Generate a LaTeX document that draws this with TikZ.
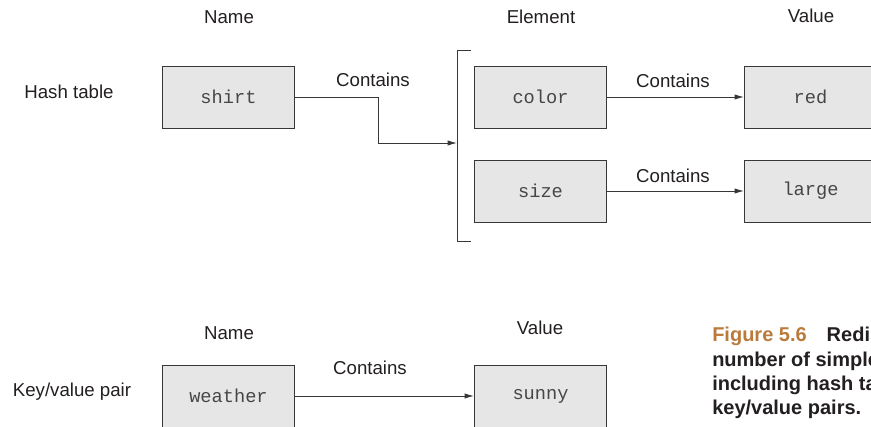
\documentclass[tikz,border=0pt]{standalone}
\usepackage{fontspec}
\setmainfont{Liberation Sans}
\setmonofont{Liberation Mono}
\usetikzlibrary{arrows.meta,positioning}
\definecolor{boxfill}{RGB}{230,230,230}
\definecolor{boxline}{RGB}{55,55,55}
\definecolor{inkdark}{RGB}{35,31,32}
\definecolor{monoink}{RGB}{70,70,70}
\definecolor{figorange}{RGB}{186,122,60}
\tikzset{
  keybox/.style={rectangle,draw=boxline,fill=boxfill,line width=0.75pt,minimum width=99pt,minimum height=46.5pt,inner sep=0pt,font=\fontsize{14}{16}\selectfont\ttfamily,text=monoink},
  lbl/.style={font=\fontsize{14}{16}\selectfont,text=inkdark,inner sep=0pt},
  arr/.style={-{Latex[length=7pt,width=4pt]},line width=0.75pt,color=boxline},
  brk/.style={line width=0.75pt,color=boxline},
  captxt/.style={anchor=base west,inner sep=0pt,font=\fontsize{15}{18}\selectfont\bfseries,text=inkdark}
}
\begin{document}
\begin{tikzpicture}[x=0.75pt,y=-0.75pt]
  \useasboundingbox (0,0) rectangle (871,426);
  \clip (0,0) rectangle (871,426);
  % hash table
  \node[keybox] (shirt) at (228.5,97) {shirt};
  \node[keybox,right=134.25pt of shirt] (color) {color};
  \node[keybox,below=23.25pt of color] (size) {size};
  \node[keybox,right=102.75pt of color] (red) {red};
  \node[keybox,right=102.75pt of size] (large) {large};
  \coordinate (brtop) at (457,50);
  \coordinate (brbot) at (457,241);
  \coordinate (brin) at (457,143);
  \draw[brk] (brtop) ++(14,0) -- (brtop) -- (brbot) -- ++(14,0);
  \draw[arr] (shirt.east) -- ++(83,0) |- (brin);
  \draw[arr] (color) -- (red);
  \draw[arr] (size) -- (large);
  \node[lbl] (ctshirt) at (373,80) {Contains};
  \node[lbl] (ctcolor) at (673,81) {Contains};
  \node[lbl] (ctsize) at (673,176) {Contains};
  \node[lbl] (hdname) at (229,17) {Name};
  \node[lbl] (hdelem) at (541,17) {Element};
  \node[lbl] (hdval) at (811,16) {Value};
  \node[lbl] (rowhash) at (69,92) {Hash table};
  % key/value pair
  \node[keybox] (weather) at (228.5,396) {weather};
  \node[keybox,right=134.25pt of weather] (sunny) {sunny};
  \draw[arr] (weather) -- (sunny);
  \node[lbl] (ctweather) at (370,368) {Contains};
  \node[lbl] (kvname) at (229,333) {Name};
  \node[lbl] (kvval) at (540,328) {Value};
  \node[lbl] (rowkv) at (72,392) {Key/value pair};
  % caption
  \node[captxt] (cap1) at (712,341) {\textcolor{figorange}{Figure 5.6}\hspace{15pt}Redis};
  \node[captxt] (cap2) at (712,366) {number of simple};
  \node[captxt] (cap3) at (712,390) {including hash tables};
  \node[captxt] (cap4) at (712,414) {key/value pairs.};
\end{tikzpicture}
\end{document}
